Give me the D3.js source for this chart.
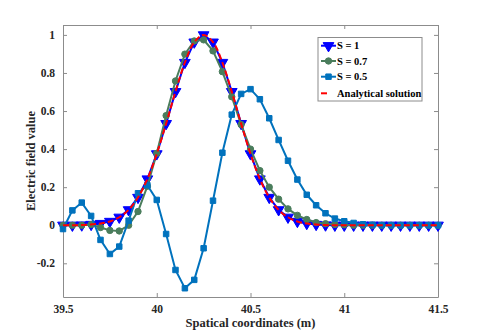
<!DOCTYPE html>
<html lang="en">
<head>
    <script src="https://d3js.org/d3.v7.min.js"></script>
</head>
<style>
    body { margin: 0; background: #fff; }
    text { font-family: "Liberation Serif", "Times New Roman", serif; font-weight: bold; }
</style>
<body>
<script>
    const w = 485
    const h = 335

    // x positions, 39.5 .. 41.5 in steps of 0.05
    const xs = [39.5, 39.55, 39.6, 39.65, 39.7, 39.75, 39.8, 39.85, 39.9, 39.95,
                40.0, 40.05, 40.1, 40.15, 40.2, 40.25, 40.3, 40.35, 40.4, 40.45,
                40.5, 40.55, 40.6, 40.65, 40.7, 40.75, 40.8, 40.85, 40.9, 40.95,
                41.0, 41.05, 41.1, 41.15, 41.2, 41.25, 41.3, 41.35, 41.4, 41.45, 41.5]

    // values
    const s1 = [0, 0, 0.001, 0.004, 0.009, 0.02, 0.042, 0.081, 0.146, 0.243,
                0.375, 0.534, 0.702, 0.855, 0.962, 1.0, 0.962, 0.855, 0.702, 0.534,
                0.375, 0.243, 0.146, 0.081, 0.042, 0.02, 0.009, 0.004, 0.001, 0,
                0, 0, 0, 0, 0, 0, 0, 0, 0, 0, 0]
    const s07 = [0, 0, 0, 0.004, -0.012, -0.027, -0.03, 0.0, 0.072, 0.205,
                 0.378, 0.576, 0.758, 0.899, 0.968, 0.974, 0.916, 0.807, 0.675, 0.529,
                 0.4, 0.287, 0.2, 0.137, 0.086, 0.052, 0.03, 0.014, 0.008, 0.004,
                 0.002, 0, 0, 0, 0, 0, 0, 0, 0, 0, 0]
    const s05 = [-0.02, 0.078, 0.119, 0.049, -0.077, -0.151, -0.112, 0.024, 0.168, 0.21,
                 0.133, -0.046, -0.235, -0.331, -0.287, -0.121, 0.129, 0.381, 0.581, 0.69,
                 0.715, 0.662, 0.562, 0.448, 0.339, 0.24, 0.16, 0.105, 0.063, 0.035,
                 0.021, 0.012, 0.005, 0.002, 0, 0, 0, 0, 0, 0, 0]
    const analytic = [0, 0, 0.001, 0.004, 0.009, 0.02, 0.042, 0.081, 0.146, 0.243,
                      0.375, 0.534, 0.702, 0.855, 0.962, 1.0, 0.962, 0.855, 0.702, 0.534,
                      0.375, 0.243, 0.146, 0.081, 0.042, 0.02, 0.009, 0.004, 0.001, 0,
                      0, 0, 0, 0, 0, 0, 0, 0, 0, 0, 0]

    const xTicks = [39.5, 40, 40.5, 41, 41.5]
    const yTicks = [-0.2, 0, 0.2, 0.4, 0.6, 0.8, 1]
    const names = ["S = 1", "S = 0.7", "S = 0.5", "Analytical solution"]

    // plot box edges
    const x0 = 63, x1 = 438, y0 = 25, y1 = 297

    let svg = d3.select("body")
        .append("svg")
        .attr("width", w)
        .attr("height", h)

    let xScale = d3.scaleLinear().domain([39.5, 41.5]).range([x0, x1])
    let yScale = d3.scaleLinear().domain([-0.377, 1.052]).range([y1, y0])

    const axisColor = "#8c8c8c"

    // axes, ticks pointing inward like matlab
    let xaxis = d3.axisBottom(xScale).tickValues(xTicks).tickSizeInner(-4).tickSizeOuter(0)
        .tickPadding(8).tickFormat(d3.format("~g"))
    let xaxisTop = d3.axisTop(xScale).tickValues(xTicks).tickSizeInner(-4).tickSizeOuter(0).tickFormat("")
    let yaxis = d3.axisLeft(yScale).tickValues(yTicks).tickSizeInner(-4).tickSizeOuter(0)
        .tickPadding(8).tickFormat(d3.format("~g"))
    let yaxisRight = d3.axisRight(yScale).tickValues(yTicks).tickSizeInner(-4).tickSizeOuter(0).tickFormat("")

    let gx = svg.append("g").attr("transform", "translate(0," + y1 + ")").call(xaxis)
    let gxt = svg.append("g").attr("transform", "translate(0," + y0 + ")").call(xaxisTop)
    let gy = svg.append("g").attr("transform", "translate(" + x0 + ",0)").call(yaxis)
    let gyr = svg.append("g").attr("transform", "translate(" + x1 + ",0)").call(yaxisRight)

    for (let g of [gx, gxt, gy, gyr]) {
        g.select(".domain").attr("stroke", axisColor)
        g.selectAll(".tick line").attr("stroke", axisColor)
        g.selectAll("text").attr("font-size", "11.5px").attr("fill", "#262626")
            .attr("font-family", "Liberation Serif").attr("font-weight", "bold")
    }
    gy.selectAll("text").text(d => d3.format("~g")(d).replace("−", "-"))

    svg.append("text")
        .attr("x", (x0 + x1) / 2)
        .attr("y", 327)
        .attr("text-anchor", "middle")
        .attr("font-size", "12.5px")
        .attr("fill", "#262626")
        .text("Spatical coordinates (m)")

    svg.append("text")
        .attr("transform", "translate(35," + 161 + ") rotate(-90)")
        .attr("text-anchor", "middle")
        .attr("font-size", "12.5px")
        .attr("fill", "#262626")
        .text("Electric field value")

    let plot = svg.append("g")

    const series = [
        {vals: s1, color: "#0000ff", marker: d3.symbolTriangle, size: 50, flip: true},
        {vals: s07, color: "#4a7d5c", marker: d3.symbolCircle, size: 32, flip: false},
        {vals: s05, color: "#0072bd", marker: d3.symbolSquare, size: 30, flip: false}
    ]

    let line = d3.line().x((d, i) => xScale(xs[i])).y(d => yScale(d))

    series.forEach(s => {
        plot.append("path")
            .attr("d", line(s.vals))
            .attr("fill", "none")
            .attr("stroke", s.color)
            .attr("stroke-width", 2)
        plot.selectAll(null)
            .data(s.vals)
            .enter()
            .append("path")
            .attr("d", d3.symbol().type(s.marker).size(s.size))
            .attr("transform", (d, i) => "translate(" + xScale(xs[i]) + "," + yScale(d) + ")" + (s.flip ? " rotate(180)" : ""))
            .attr("fill", s.color)
            .attr("stroke", s.color)
            .attr("stroke-width", 1)
    })

    plot.append("path")
        .attr("d", d3.line().x((d, i) => xScale(xs[i])).y(d => yScale(d)).curve(d3.curveCatmullRom)(analytic))
        .attr("fill", "none")
        .attr("stroke", "#ff0000")
        .attr("stroke-width", 2)
        .attr("stroke-dasharray", "6,3")

    // legend
    let lg = svg.append("g")
    lg.append("rect")
        .attr("x", 318).attr("y", 37.5)
        .attr("width", 104).attr("height", 63.5)
        .attr("fill", "#fff")
        .attr("stroke", axisColor)
        .attr("stroke-width", 1)

    const legendY = [45.7, 61, 76.7, 93.3]
    names.forEach((n, i) => {
        let y = legendY[i]
        if (i < 3) {
            let s = series[i]
            lg.append("line")
                .attr("x1", 321).attr("x2", 336).attr("y1", y).attr("y2", y)
                .attr("stroke", s.color).attr("stroke-width", 2)
            lg.append("path")
                .attr("d", d3.symbol().type(s.marker).size(s.size))
                .attr("transform", "translate(328.5," + y + ")" + (s.flip ? " rotate(180)" : ""))
                .attr("fill", s.color).attr("stroke", s.color)
        } else {
            lg.append("line")
                .attr("x1", 321).attr("x2", 327).attr("y1", y).attr("y2", y)
                .attr("stroke", "#ff0000").attr("stroke-width", 2)
        }
        lg.append("text")
            .attr("x", 337)
            .attr("y", y + 3.5)
            .attr("font-size", "10.5px")
            .attr("fill", "#000")
            .text(n)
    })
</script>
</body>
</html>
